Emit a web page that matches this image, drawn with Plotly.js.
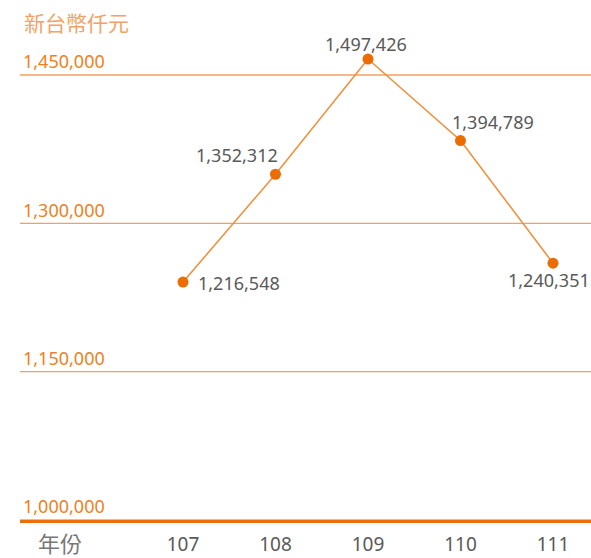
<!DOCTYPE html>
<html>
<head>
<meta charset="utf-8">
<script src="https://cdn.plot.ly/plotly-3.0.1.min.js"></script>
<style>html,body{margin:0;padding:0;background:#fff;}#chart{width:591px;height:558px;}</style>
</head>
<body>
<div id="chart"></div>
<script>
const years = [107, 108, 109, 110, 111];
const values = [1216548, 1352312, 1497426, 1394789, 1240351];
const yTicks = [1000000, 1150000, 1300000, 1450000];
const yTickLabels = ['1,000,000', '1,150,000', '1,300,000', '1,450,000'];
// label offsets (styling only)
const labelDx = [56, -38, -2, 33, -4];
const labelDy = [-1, 19, 15.5, 18.5, -17];

const labels = values.map(v => v.toLocaleString('en-US'));

const gridTrace = {
  type: 'scatter', x: [], y: [], xaxis: 'x', yaxis: 'y',
  hoverinfo: 'none', showlegend: false
};

const trace = {
  x: years,
  y: values,
  xaxis: 'x',
  yaxis: 'y2',
  type: 'scatter',
  mode: 'lines+markers',
  line: {color: '#F28C36', width: 1.5},
  marker: {color: '#EC6C00', size: 11},
  hoverinfo: 'none',
  cliponaxis: false
};

const dataLabels = years.map((yr, i) => ({
  x: yr, y: values[i], xref: 'x', yref: 'y2',
  text: labels[i], showarrow: false,
  xanchor: 'center', yanchor: 'middle',
  xshift: labelDx[i], yshift: labelDy[i],
  font: {family: 'Noto Sans, Open Sans, sans-serif', size: 18, color: '#595959'}
}));

const gridShapes = yTicks.map(v => ({
  type: 'line', xref: 'paper', x0: 0, x1: 1, yref: 'y', y0: v, y1: v,
  line: {color: '#F2A060', width: 1.3}, layer: 'below'
}));

const layout = {
  width: 591,
  height: 558,
  margin: {l: 20, r: 0, t: 20, b: 38},
  paper_bgcolor: '#ffffff',
  plot_bgcolor: '#ffffff',
  showlegend: false,
  font: {family: 'Noto Sans, Open Sans, sans-serif'},
  xaxis: {
    type: 'linear',
    range: [105.238, 111.411],
    tickvals: years,
    ticktext: years.map(String),
    showgrid: false,
    zeroline: false,
    showline: true,
    linecolor: '#EC6E0C',
    linewidth: 3,
    ticks: '',
    ticklabelstandoff: 5,
    tickfont: {size: 19, color: '#595959'},
    fixedrange: true
  },
  yaxis: {
    range: [1000000, 1505618],
    tickmode: 'array',
    tickvals: yTicks,
    ticktext: yTickLabels,
    ticklabelposition: 'inside',
    ticklabelshift: -13,
    tickfont: {size: 18, color: '#F07F22'},
    showgrid: false,
    zeroline: false,
    showline: false,
    ticks: '',
    fixedrange: true
  },
  yaxis2: {
    overlaying: 'y',
    side: 'right',
    range: [916877, 1546599],
    visible: false,
    showgrid: false,
    zeroline: false,
    fixedrange: true
  },
  shapes: gridShapes,
  annotations: dataLabels.concat([
    {
      text: '新台幣仟元',
      xref: 'paper', yref: 'paper',
      x: 0, y: 1, xshift: 2, yshift: -2,
      xanchor: 'left', yanchor: 'middle',
      showarrow: false,
      font: {family: 'Noto Sans CJK TC, Noto Sans, sans-serif', size: 21, color: '#F2A264'}
    },
    {
      text: '年份',
      xref: 'paper', yref: 'paper',
      x: 0, y: 0, xshift: 40, yshift: -22,
      xanchor: 'center', yanchor: 'middle',
      showarrow: false,
      font: {family: 'Noto Sans CJK TC, Noto Sans, sans-serif', size: 22, color: '#777777'}
    }
  ])
};

Plotly.newPlot('chart', [gridTrace, trace], layout, {displayModeBar: false, staticPlot: true});
</script>
</body>
</html>
